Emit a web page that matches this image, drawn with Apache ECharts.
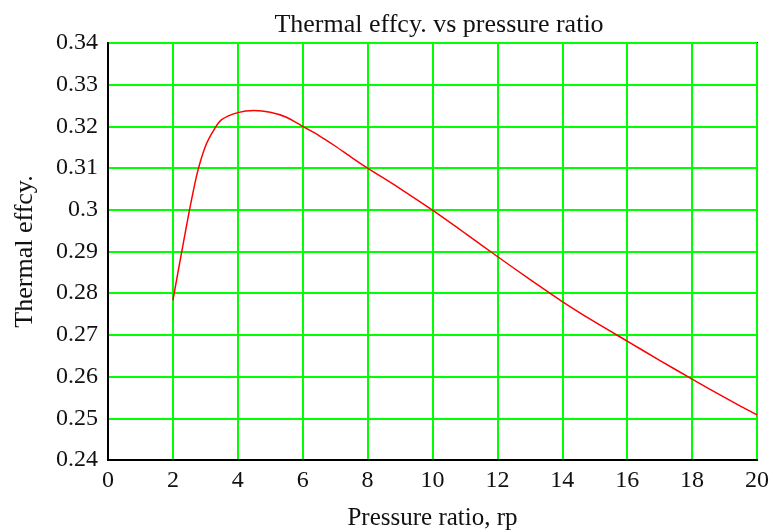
<!DOCTYPE html>
<html>
<head>
<meta charset="utf-8">
<script src="https://cdn.jsdelivr.net/npm/echarts@6/dist/echarts.min.js"></script>
<style>html,body{margin:0;padding:0;background:#fff;}#c{width:773px;height:532px;}</style>
</head>
<body>
<div id="c"></div>
<script>
var titleText = 'Thermal effcy. vs pressure ratio';
var xName = 'Pressure ratio, rp';
var yName = 'Thermal effcy.';
var rp  = [2.0, 2.25, 2.5, 2.75, 3.0, 3.25, 3.5, 4.0, 4.5, 5.0, 5.5, 6.0, 6.5, 7.0, 7.5, 8, 9, 10, 11, 12, 13, 14, 15, 16, 17, 18, 19, 20];
var eff = [0.2783, 0.2890, 0.2995, 0.3088, 0.3152, 0.3190, 0.3216, 0.3233, 0.3238, 0.3234, 0.3222, 0.3200, 0.3178, 0.3153, 0.3126, 0.3100, 0.3051, 0.2999, 0.2944, 0.2888, 0.2833, 0.2780, 0.2731, 0.2685, 0.2639, 0.2594, 0.2550, 0.2508];

var font = '"Liberation Serif","Times New Roman",serif';
var chart = echarts.init(document.getElementById('c'));
chart.setOption({
  backgroundColor: '#fff',
  animation: false,
  title: {
    text: titleText, left: 434, top: 7, textAlign: 'center',
    textStyle: {fontFamily: font, fontSize: 26, fontWeight: 'normal', color: '#111'}
  },
  grid: {left: 108, top: 43, right: 16, bottom: 72, show: true, borderColor: '#000', borderWidth: 2, backgroundColor: '#fff', outerBoundsMode: 'none', containLabel: false},
  xAxis: {
    type: 'value', min: 0, max: 20, interval: 2,
    name: xName, nameLocation: 'middle', nameGap: 46,
    nameTextStyle: {fontFamily: font, fontSize: 25, color: '#111'},
    axisLine: {show: true, lineStyle: {color: '#000', width: 2}},
    axisTick: {show: false},
    axisLabel: {fontFamily: font, fontSize: 24, color: '#111', margin: 9},
    splitLine: {show: true, lineStyle: {color: '#00ff00', width: 2}}
  },
  yAxis: {
    type: 'value', min: 0.24, max: 0.34, interval: 0.01,
    name: yName, nameLocation: 'middle', nameGap: 70, nameRotate: 90,
    nameTextStyle: {fontFamily: font, fontSize: 26, color: '#111'},
    axisLine: {show: true, lineStyle: {color: '#000', width: 2}},
    axisTick: {show: false},
    axisLabel: {fontFamily: font, fontSize: 24, color: '#111', margin: 10},
    splitLine: {show: true, lineStyle: {color: '#00ff00', width: 2}}
  },
  series: [{
    type: 'line',
    data: rp.map(function (x, i) { return [x, eff[i]]; }),
    showSymbol: false,
    smooth: 0.25,
    lineStyle: {color: '#ff0000', width: 1.5},
    itemStyle: {color: '#ff0000'}
  }]
});
</script>
</body>
</html>
